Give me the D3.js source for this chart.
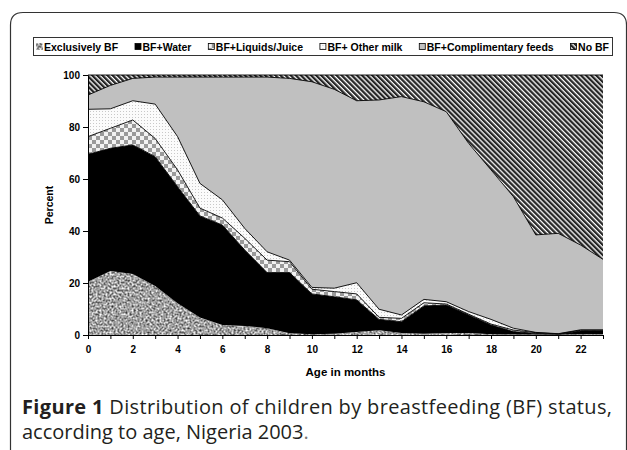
<!DOCTYPE html>
<html>
<head>
<meta charset="utf-8">
<script src="https://cdn.jsdelivr.net/npm/d3@7"></script>
<style>
	body { margin: 0; background: #fff; }
	svg { display: block; }
	.axis text { font-family: "Liberation Sans", Arial, sans-serif; font-weight: bold; font-size: 10px; fill: #000; }
	.axis path, .axis line { stroke: #000; }
</style>
</head>
<body>
<svg id="chart" width="627" height="450"></svg>
<script>
// values, percent of children at each age in months
const months = d3.range(0, 24)
const seriesNames = ["Exclusively BF", "BF+Water", "BF+Liquids/Juice", "BF+ Other milk", "BF+Complimentary feeds", "No BF"]
const exclusive = [20.5, 24.6, 23.5, 18.8, 12.2, 6.7, 3.8, 3.5, 2.6, 0.7, 0.3, 0.5, 1.2, 1.8, 0.8, 0.5, 0.8, 0.8, 0.3, 0.2, 0.2, 0.2, 0.3, 0.3]
const water = [49.0, 47.2, 49.6, 49.8, 44.8, 39.1, 38.5, 29.2, 21.4, 23.3, 15.5, 14.2, 12.3, 4.2, 4.3, 10.7, 10.7, 6.9, 3.5, 1.1, 0.4, 0.1, 1.2, 1.2]
const liquids = [6.8, 7.7, 9.6, 7.0, 6.5, 3.0, 2.7, 4.5, 4.8, 4.2, 1.8, 2.0, 2.3, 0.8, 1.3, 1.2, 0.4, 0.3, 0.4, 0.6, 0.3, 0.1, 0.3, 0.3]
const otherMilk = [10.5, 7.5, 7.4, 13.2, 12.8, 9.5, 7.0, 3.8, 3.2, 0.6, 0.7, 1.3, 4.3, 3.1, 1.3, 1.3, 0.9, 1.0, 1.8, 0.7, 0.1, 0.1, 0.2, 0.2]
const complementary = [5.5, 9.0, 8.6, 10.4, 22.9, 40.9, 47.2, 58.2, 67.2, 69.9, 79.1, 76.5, 70.0, 80.5, 84.0, 76.0, 73.1, 64.7, 57.5, 50.6, 37.5, 38.6, 32.6, 27.1]
const noBF = [7.7, 4.0, 1.3, 0.8, 0.8, 0.8, 0.8, 0.8, 0.8, 1.3, 2.6, 5.5, 9.9, 9.6, 8.3, 10.3, 14.1, 26.3, 36.5, 46.8, 61.5, 60.9, 65.4, 70.9]
const yTicks = [0, 20, 40, 60, 80, 100]
const xTickLabels = [0, 2, 4, 6, 8, 10, 12, 14, 16, 18, 20, 22]

const allSeries = [exclusive, water, liquids, otherMilk, complementary, noBF]
const rows = months.map((m, i) => {
	const row = {month: m}
	seriesNames.forEach((name, j) => row[name] = allSeries[j][i])
	return row
})

const svg = d3.select("#chart")
const defs = svg.append("defs")

// fills, roughly like the old excel patterns
const speckle = defs.append("filter")
	.attr("id", "speckle")
	.attr("color-interpolation-filters", "sRGB")
	.attr("x", 0).attr("y", 0).attr("width", "100%").attr("height", "100%")
speckle.append("feTurbulence")
	.attr("type", "fractalNoise")
	.attr("baseFrequency", 0.5)
	.attr("numOctaves", 2)
	.attr("seed", 7)
	.attr("result", "noise")
speckle.append("feColorMatrix")
	.attr("in", "noise")
	.attr("type", "matrix")
	.attr("values", "1.3 0 0 0 -0.02  1.3 0 0 0 -0.02  1.3 0 0 0 -0.02  0 0 0 0 1")
	.attr("result", "grey")
speckle.append("feComposite")
	.attr("in", "grey")
	.attr("in2", "SourceGraphic")
	.attr("operator", "in")

const checker = defs.append("pattern")
	.attr("id", "checker")
	.attr("patternUnits", "userSpaceOnUse")
	.attr("width", 8).attr("height", 8)
checker.append("rect").attr("width", 8).attr("height", 8).attr("fill", "#f2f2f2")
checker.append("rect").attr("width", 4).attr("height", 4).attr("fill", "#9a9a9a")
checker.append("rect").attr("x", 4).attr("y", 4).attr("width", 4).attr("height", 4).attr("fill", "#9a9a9a")

const dots = defs.append("pattern")
	.attr("id", "dots")
	.attr("patternUnits", "userSpaceOnUse")
	.attr("width", 3).attr("height", 3)
dots.append("rect").attr("width", 3).attr("height", 3).attr("fill", "#fbfbfb")
dots.append("rect").attr("width", 1).attr("height", 1).attr("fill", "#c8c8c8")

const stripes = defs.append("pattern")
	.attr("id", "stripes")
	.attr("patternUnits", "userSpaceOnUse")
	.attr("width", 3.6).attr("height", 10)
	.attr("patternTransform", "rotate(-45)")
stripes.append("rect").attr("width", 3.6).attr("height", 10).attr("fill", "#fff")
stripes.append("rect").attr("width", 2.3).attr("height", 10).attr("fill", "#262626")

const fills = ["#bdbdbd", "#000", "url(#checker)", "url(#dots)", "#c0c0c0", "url(#stripes)"]

// frame round the figure
svg.append("path")
	.attr("d", "M10.5,450 V25 Q10.5,12.5 23,12.5 H614 Q626.5,12.5 626.5,25 V450")
	.attr("fill", "none")
	.attr("stroke", "#333")
	.attr("stroke-width", 1.2)

const margin = {top: 75, left: 88, right: 24, bottom: 115}
const width = 627 - margin.left - margin.right
const height = 450 - margin.top - margin.bottom

const x = d3.scaleLinear().domain([0, 23]).range([margin.left, margin.left + width])
const y = d3.scaleLinear().domain([0, 100]).range([margin.top + height, margin.top])

const stacked = d3.stack().keys(seriesNames)(rows)

const area = d3.area()
	.x(d => x(d.data.month))
	.y0(d => y(d[0]))
	.y1(d => y(d[1]))

const topLine = d3.line()
	.x(d => x(d.data.month))
	.y(d => y(d[1]))

const layers = svg.append("g")

layers.selectAll("path.area")
	.data(stacked)
	.enter()
	.append("path")
		.attr("class", "area")
		.attr("d", area)
		.attr("fill", (d, i) => fills[i])
		.attr("filter", (d, i) => i === 0 ? "url(#speckle)" : null)

layers.selectAll("path.edge")
	.data(stacked.slice(1))
	.enter()
	.append("path")
		.attr("class", "edge")
		.attr("d", topLine)
		.attr("fill", "none")
		.attr("stroke", "#000")
		.attr("stroke-width", 0.9)

// axes
svg.append("g")
	.attr("class", "axis")
	.attr("transform", `translate(0,${margin.top + height})`)
	.call(d3.axisBottom(x)
		.tickValues(months)
		.tickSize(4)
		.tickSizeOuter(0)
		.tickFormat(d => xTickLabels.includes(d) ? d : ""))
	.call(g => g.selectAll("text").attr("dy", "1.05em"))

svg.append("g")
	.attr("class", "axis")
	.attr("transform", `translate(${margin.left},0)`)
	.call(d3.axisLeft(y)
		.tickValues(yTicks)
		.tickSize(5)
		.tickSizeOuter(0))
	.call(g => g.selectAll("text").attr("x", -8))

svg.append("text")
	.attr("x", x(11.5))
	.attr("y", 376)
	.attr("text-anchor", "middle")
	.style("font-family", "Liberation Sans, Arial, sans-serif")
	.style("font-weight", "bold")
	.style("font-size", "11.5px")
	.text("Age in months")

svg.append("text")
	.attr("transform", `translate(53,${y(50)}) rotate(-90)`)
	.attr("text-anchor", "middle")
	.style("font-family", "Liberation Sans, Arial, sans-serif")
	.style("font-weight", "bold")
	.style("font-size", "10.5px")
	.text("Percent")

// legend, items spread along the box
const legendLeft = 33, legendRight = 612
svg.append("rect")
	.attr("x", legendLeft + 0.5).attr("y", 37.5)
	.attr("width", legendRight - legendLeft).attr("height", 18)
	.attr("fill", "#fff")
	.attr("stroke", "#333")

const legend = svg.append("g")
	.selectAll("g")
	.data(seriesNames)
	.enter()
	.append("g")

legend.append("rect")
	.attr("x", 0.5).attr("y", 43.5)
	.attr("width", 6).attr("height", 6)
	.attr("fill", (d, i) => fills[i])
	.attr("filter", (d, i) => i === 0 ? "url(#speckle)" : null)
	.attr("stroke", "#000")
	.attr("stroke-width", 0.8)

legend.append("text")
	.attr("x", 8)
	.attr("y", 50.5)
	.style("font-family", "Liberation Sans, Arial, sans-serif")
	.style("font-weight", "bold")
	.style("font-size", "10.5px")
	.text(d => d)

const itemWidths = []
legend.select("text").each(function() { itemWidths.push(8 + this.getComputedTextLength()) })
const gap = (legendRight - legendLeft - 6 - d3.sum(itemWidths)) / (itemWidths.length - 1)
let cursor = legendLeft + 3
legend.attr("transform", (d, i) => {
	const t = `translate(${cursor},0)`
	cursor += itemWidths[i] + gap
	return t
})

// caption
const caption = svg.append("g")
	.style("font-family", "Open Sans, Noto Sans, sans-serif")
	.style("font-size", "20px")
	.style("fill", "#231f20")

const line1 = caption.append("text").attr("x", 22).attr("y", 414)
	.attr("textLength", 590)
	.attr("lengthAdjust", "spacing")
line1.append("tspan").style("font-weight", "bold").text("Figure 1")
line1.append("tspan").text(" Distribution of children by breastfeeding (BF) status,")

const line2 = caption.append("text").attr("x", 22).attr("y", 439)
line2.append("tspan").text("according to age, Nigeria 2003")
line2.append("tspan").style("fill", "#777").text(".")
</script>
</body>
</html>
